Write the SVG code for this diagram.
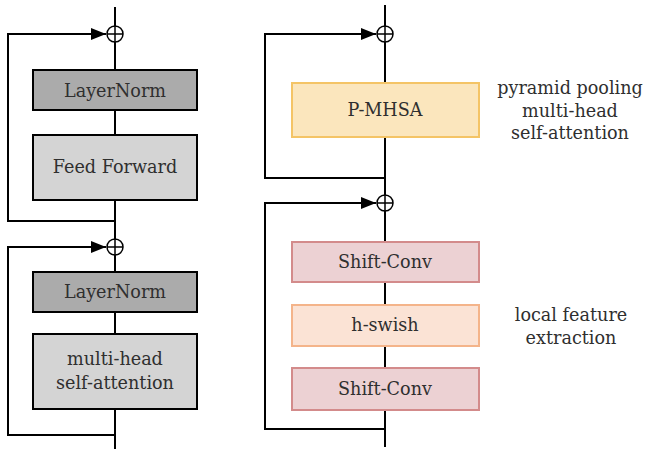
<svg xmlns="http://www.w3.org/2000/svg" width="646" height="449" viewBox="0 0 646 449">
<style>
text{font-family:"DejaVu Serif","Liberation Serif",serif;font-size:17.6px;fill:#2f2f2f;text-anchor:middle}
.ln{stroke:#000;stroke-width:2;fill:none}
.sum{stroke:#000;stroke-width:1.5;fill:#fff}
.dark{fill:#ababab;stroke:#000;stroke-width:2}
.light{fill:#d4d4d4;stroke:#000;stroke-width:2}
.pm{fill:#fbe6bd;stroke:#f4c466;stroke-width:2}
.sc{fill:#ecd1d3;stroke:#d38b8b;stroke-width:2}
.hs{fill:#fbe3d5;stroke:#f4b48a;stroke-width:2}
</style>
<defs>
<marker id="ah" markerWidth="15" markerHeight="12" refX="15" refY="6" orient="auto" markerUnits="userSpaceOnUse">
<path d="M0,0 L15,6 L0,12 Z" fill="#000"/>
</marker>
</defs>
<g id="connectors">
<line class="ln" x1="115" y1="7" x2="115" y2="449"/>
<polyline class="ln" points="115,221 8,221 8,34 106,34" marker-end="url(#ah)"/>
<polyline class="ln" points="115,435 8,435 8,247 106,247" marker-end="url(#ah)"/>
<line class="ln" x1="385" y1="5" x2="385" y2="447"/>
<polyline class="ln" points="385,178 265,178 265,34 376,34" marker-end="url(#ah)"/>
<polyline class="ln" points="385,429 265,429 265,203 376,203" marker-end="url(#ah)"/>
</g>
<g id="sum1"><circle class="sum" cx="115" cy="34" r="8"/><path class="sum" d="M107,34H123M115,26V42"/></g>
<g id="sum2"><circle class="sum" cx="115" cy="247" r="8"/><path class="sum" d="M107,247H123M115,239V255"/></g>
<g id="sum3"><circle class="sum" cx="385" cy="34" r="8"/><path class="sum" d="M377,34H393M385,26V42"/></g>
<g id="sum4"><circle class="sum" cx="385" cy="203" r="8"/><path class="sum" d="M377,203H393M385,195V211"/></g>
<g id="layernorm1"><rect class="dark" x="33" y="70" width="164" height="40"/><text x="115" y="97">LayerNorm</text></g>
<g id="feedforward"><rect class="light" x="33" y="135" width="164" height="65"/><text x="115" y="173">Feed Forward</text></g>
<g id="layernorm2"><rect class="dark" x="33" y="272" width="164" height="40"/><text x="115" y="298">LayerNorm</text></g>
<g id="mhsa"><rect class="light" x="33" y="334" width="164" height="75"/><text x="115" y="365">multi-head</text><text x="115" y="389">self-attention</text></g>
<g id="pmhsa"><rect class="pm" x="292" y="83" width="187" height="54"/><text x="385" y="116">P-MHSA</text></g>
<g id="shiftconv1"><rect class="sc" x="292" y="242" width="187" height="40"/><text x="385" y="268">Shift-Conv</text></g>
<g id="hswish"><rect class="hs" x="292" y="305" width="187" height="41"/><text x="385" y="331">h-swish</text></g>
<g id="shiftconv2"><rect class="sc" x="292" y="368" width="187" height="42"/><text x="385" y="395">Shift-Conv</text></g>
<g id="label-pmhsa"><text x="570" y="94">pyramid pooling</text><text x="570" y="117">multi-head</text><text x="570" y="139">self-attention</text></g>
<g id="label-local"><text x="571" y="321">local feature</text><text x="571" y="344">extraction</text></g>
</svg>
